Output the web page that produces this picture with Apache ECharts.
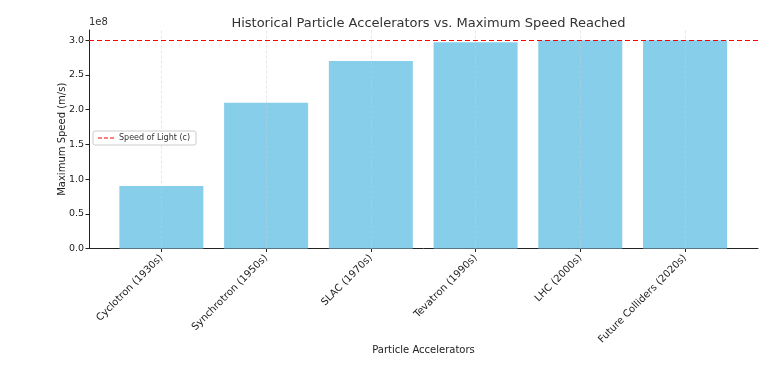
<!DOCTYPE html>
<html>
<head>
<meta charset="utf-8">
<script src="https://cdn.jsdelivr.net/npm/echarts@6/dist/echarts.min.js"></script>
<style>html,body{margin:0;padding:0;background:#fff}#c{width:784px;height:383px}</style>
</head>
<body>
<div id="c"></div>
<script>
const categories = ['Cyclotron (1930s)', 'Synchrotron (1950s)', 'SLAC (1970s)', 'Tevatron (1990s)', 'LHC (2000s)', 'Future Colliders (2020s)'];
const speeds = [0.9e8, 2.1e8, 2.7e8, 2.97e8, 2.99999e8, 2.99999e8];
const speedOfLight = 299792458;
const yTickStep = 0.5e8;
const yMax = 3.148e8;

const font = 'DejaVu Sans';
const chart = echarts.init(document.getElementById('c'), null, {renderer: 'canvas'});
const gridTop = 30, gridBottom = 134.5;
chart.setOption({
  animation: false,
  textStyle: {fontFamily: font},
  title: {
    text: 'Historical Particle Accelerators vs. Maximum Speed Reached',
    left: 423.5, top: 12, textAlign: 'center',
    textStyle: {fontFamily: font, fontSize: 13, fontWeight: 'normal', color: '#333'}
  },
  legend: {
    left: 93, top: 131, orient: 'vertical',
    padding: [3, 6, 3, 5],
    borderColor: '#ccc', borderWidth: 1, borderRadius: 2,
    backgroundColor: '#fff',
    itemWidth: 16, itemHeight: 2, itemGap: 4,
    textStyle: {fontFamily: font, fontSize: 8, color: '#333'},
    data: [{
      name: 'Speed of Light (c)',
      icon: 'path://M0,0h4v1h-4z M6,0h4v1h-4z M12,0h4v1h-4z',
      itemStyle: {color: '#ff0000'}
    }]
  },
  graphic: [{
    type: 'text', left: 89, top: 17,
    style: {text: '1e8', font: '10px "DejaVu Sans"', fill: '#333'}
  }],
  grid: [
    {left: 89, right: 26, top: gridTop, bottom: gridBottom},
    {left: 109, right: 46.6, top: gridTop, bottom: gridBottom}
  ],
  xAxis: [
    {
      type: 'value', gridIndex: 0, min: 0, max: 1,
      axisLine: {show: true, lineStyle: {color: '#222', width: 1}},
      axisTick: {show: false}, axisLabel: {show: false}, splitLine: {show: false},
      name: 'Particle Accelerators', nameLocation: 'middle', nameGap: 97,
      nameMoveOverlap: false,
      nameTextStyle: {fontFamily: font, fontSize: 10, color: '#222'}
    },
    {
      type: 'category', gridIndex: 1, data: categories,
      axisLine: {show: false},
      axisTick: {show: true, alignWithLabel: true, length: 3.5, lineStyle: {color: '#222'}},
      axisLabel: {rotate: 45, fontFamily: font, fontSize: 10, color: '#222', margin: 8, interval: 0},
      splitLine: {show: false}
    }
  ],
  yAxis: [
    {
      type: 'value', gridIndex: 0, min: 0, max: yMax, interval: yTickStep,
      axisLine: {show: true, lineStyle: {color: '#222', width: 1}},
      axisTick: {show: true, length: 3.5, lineStyle: {color: '#222'}},
      axisLabel: {fontFamily: font, fontSize: 9.5, color: '#222', margin: 5, showMaxLabel: false,
        formatter: v => (v / 1e8).toFixed(1)},
      splitLine: {show: false},
      name: 'Maximum Speed (m/s)', nameLocation: 'middle', nameGap: 22,
      nameMoveOverlap: false,
      nameTextStyle: {fontFamily: font, fontSize: 10, color: '#222'}
    },
    {
      type: 'value', gridIndex: 1, min: 0, max: yMax, interval: yTickStep,
      show: false
    }
  ],
  series: [
    {
      type: 'bar', xAxisIndex: 1, yAxisIndex: 1, data: speeds,
      barWidth: 84, itemStyle: {color: '#87CEEB'}, z: 2,
      markLine: {
        silent: true, symbol: 'none', label: {show: false},
        lineStyle: {type: [3, 2], color: '#cccccc', width: 0.6, opacity: 0.8},
        data: categories.map(c => ({xAxis: c})),
        z: 3
      }
    },
    {
      name: 'Speed of Light (c)', type: 'line', xAxisIndex: 0, yAxisIndex: 0,
      data: [], itemStyle: {color: '#ff0000'}, z: 5,
      markLine: {
        silent: true, symbol: 'none', label: {show: false},
        lineStyle: {type: [5, 3], color: '#ff0000', width: 1.2},
        data: [{yAxis: speedOfLight}]
      }
    }
  ]
});
</script>
</body>
</html>
